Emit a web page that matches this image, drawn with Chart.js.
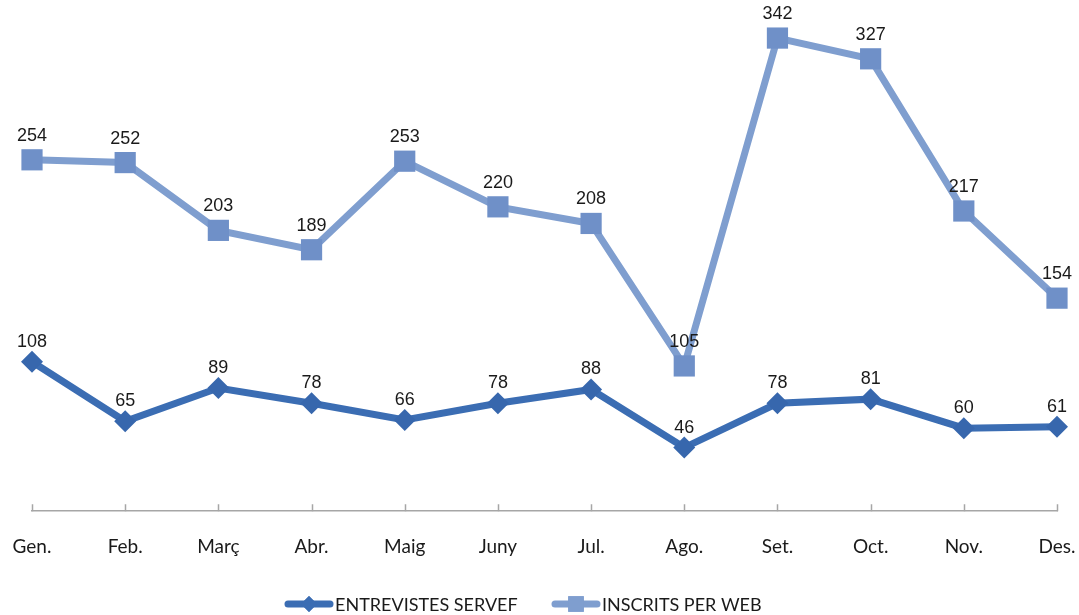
<!DOCTYPE html>
<html>
<head>
<meta charset="utf-8">
<script src="https://cdn.jsdelivr.net/npm/chart.js@4/dist/chart.umd.min.js"></script>
<style>
	html, body { margin: 0; padding: 0; background: #ffffff; }
	#wrap { width: 1079px; height: 615px; }
</style>
</head>
<body>
<div id="wrap"><canvas id="chart-inscrits"></canvas></div>
<script>
// categories and series
var months = ["Gen.", "Feb.", "Març", "Abr.", "Maig", "Juny", "Jul.", "Ago.", "Set.", "Oct.", "Nov.", "Des."];
var entrevistesServef = [108, 65, 89, 78, 66, 78, 88, 46, 78, 81, 60, 61];
var inscritsPerWeb = [254, 252, 203, 189, 253, 220, 208, 105, 342, 327, 217, 154];
var seriesLabels = ["ENTREVISTES SERVEF", "INSCRITS PER WEB"];

var darkBlue = "#3b6db3";
var lightBlue = "#7f9ecf";
var labelOffsets = [20, 24];

// value labels above each point
var valueLabels = {
	id: "valueLabels",
	afterDatasetsDraw: function(chart)
	{
		var ctx = chart.ctx;
		ctx.save();
		ctx.font = "18px 'Liberation Sans', Arial, sans-serif";
		ctx.fillStyle = "#1a1a1a";
		ctx.textAlign = "center";
		ctx.textBaseline = "middle";
		chart.data.datasets.forEach(function(ds, i)
		{
			var meta = chart.getDatasetMeta(i);
			meta.data.forEach(function(pt, j)
			{
				ctx.fillText(ds.data[j], pt.x, pt.y - labelOffsets[i]);
			});
		});
		ctx.restore();
	}
};

// small tick marks pointing up from the category axis, plus the legend
var axisAndLegend = {
	id: "axisAndLegend",
	afterDraw: function(chart)
	{
		var ctx = chart.ctx;
		var xs = chart.scales.x;
		var bottom = chart.chartArea.bottom;

		ctx.save();
		ctx.strokeStyle = "#a6a6a6";
		ctx.lineWidth = 1.5;
		ctx.beginPath();
		for (var i = 0; i < months.length; i++)
		{
			var x = Math.round(xs.getPixelForTick(i)) + 0.5;
			ctx.moveTo(x, bottom);
			ctx.lineTo(x, bottom - 7);
		}
		ctx.stroke();

		// legend
		var y = 604;
		var items = [
			{ x: 285, color: darkBlue, style: "rectRot", radius: 8, text: seriesLabels[0] },
			{ x: 552, color: lightBlue, style: "rect", radius: 11, text: seriesLabels[1] }
		];
		ctx.font = "18px Lato, 'Open Sans', sans-serif";
		ctx.textBaseline = "middle";
		ctx.textAlign = "left";
		items.forEach(function(it)
		{
			ctx.strokeStyle = it.color;
			ctx.lineWidth = 7;
			ctx.lineCap = "round";
			ctx.beginPath();
			ctx.moveTo(it.x + 3, y);
			ctx.lineTo(it.x + 45, y);
			ctx.stroke();
			ctx.fillStyle = it.color;
			Chart.helpers.drawPoint(ctx, { pointStyle: it.style, radius: it.radius, borderWidth: 0, rotation: 0 }, it.x + 24, y);
			ctx.fill();
			ctx.fillStyle = "#1a1a1a";
			ctx.fillText(it.text, it.x + 50, y + 1);
		});
		ctx.restore();
	}
};

new Chart(document.getElementById("chart-inscrits"), {
	type: "line",
	data: {
		labels: months,
		datasets: [{
			label: seriesLabels[0],
			data: entrevistesServef,
			borderColor: darkBlue,
			backgroundColor: "#3767ad",
			borderWidth: 7,
			pointStyle: "rectRot",
			pointRadius: 11,
			pointHoverRadius: 11,
			pointBorderWidth: 0,
			tension: 0,
			clip: false
		}, {
			label: seriesLabels[1],
			data: inscritsPerWeb,
			borderColor: lightBlue,
			backgroundColor: "#6f90c8",
			borderWidth: 7,
			pointStyle: "rect",
			pointRadius: 15,
			pointHoverRadius: 15,
			pointBorderWidth: 0,
			tension: 0,
			clip: false
		}]
	},
	options: {
		responsive: true,
		maintainAspectRatio: false,
		animation: false,
		layout: { autoPadding: false, padding: { left: 32, right: 22, top: 27, bottom: 54 } },
		plugins: {
			legend: { display: false },
			tooltip: { enabled: false }
		},
		scales: {
			x: {
				offset: false,
				grid: { display: false, drawTicks: true, tickLength: 21 },
				border: { display: true, color: "#a6a6a6", width: 1.5 },
				ticks: {
					color: "#1a1a1a",
					padding: 3,
					maxRotation: 0,
					autoSkip: false,
					font: { family: "Lato, 'Open Sans', sans-serif", size: 19 }
				}
			},
			y: {
				display: false,
				min: 0,
				max: 350
			}
		}
	},
	plugins: [valueLabels, axisAndLegend]
});
</script>
</body>
</html>
